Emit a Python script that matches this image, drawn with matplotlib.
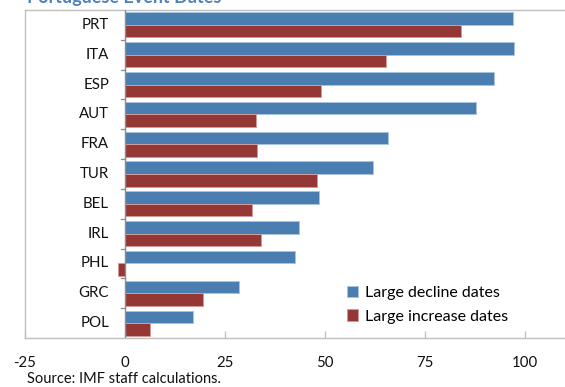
import matplotlib
matplotlib.use("Agg")
import matplotlib.pyplot as plt
import numpy as np

plt.rcParams['font.family'] = ['Lato', 'DejaVu Sans']

countries = ["PRT", "ITA", "ESP", "AUT", "FRA", "TUR", "BEL", "IRL", "PHL", "GRC", "POL"]
decline_dates = [97.0, 97.2, 92.2, 87.8, 65.8, 62.0, 48.5, 43.5, 42.5, 28.5, 17.0]
increase_dates = [84.0, 65.3, 49.0, 32.8, 33.0, 48.0, 31.7, 34.0, -1.8, 19.4, 6.2]
x_ticks = [-25, 0, 25, 50, 75, 100]

blue = "#4A7EB0"
red = "#953735"

fig = plt.figure(figsize=(5.65, 3.87), dpi=100)
ax = fig.add_axes([25 / 565, 49 / 387, 540 / 565, 328 / 387])

y = np.arange(len(countries))
h = 0.42
ax.barh(y - h / 2, decline_dates, height=h, color=blue, edgecolor="#A9C4DD",
        linewidth=0.7, label="Large decline dates")
ax.barh(y + h / 2, increase_dates, height=h, color=red, edgecolor="#D49B9A",
        linewidth=0.7, label="Large increase dates")

ax.set_xlim(-25, 110)
ax.set_ylim(len(countries) - 0.5, -0.5)

# frame
for side in ["left", "top", "bottom"]:
    ax.spines[side].set_color("#BFBFBF")
    ax.spines[side].set_linewidth(1.0)
ax.spines["right"].set_visible(False)

# vertical axis line at zero with boundary ticks
ax.axvline(0, color="#8C8C8C", linewidth=1.0, zorder=3)
for b in np.arange(0.5, len(countries) - 0.5, 1.0):
    ax.plot([-1.0, 0], [b, b], color="#8C8C8C", linewidth=0.9, zorder=3)

ax.set_yticks([])
for yi, name in zip(y, countries):
    ax.text(-4.0, yi, name, ha="right", va="center", fontsize=10.8, color="#111111")

ax.set_xticks(x_ticks)
ax.set_xticklabels([str(v) for v in x_ticks])
ax.tick_params(axis="x", direction="in", length=5, width=0.9, color="#BFBFBF",
               pad=13, labelsize=10.8, labelcolor="#111111")

ax.legend(loc="lower left", bbox_to_anchor=(0.57, 0.0), frameon=False,
          fontsize=11.5, handlelength=0.7, handleheight=0.7,
          handletextpad=0.4, labelspacing=0.6)

fig.text(27 / 565, 1 / 387, "Source: IMF staff calculations.",
         ha="left", va="bottom", fontsize=10.5, color="#111111")
fig.text(27 / 565, 1 - 3 / 387, "Portuguese Event Dates", ha="left", va="baseline",
         fontsize=13, fontweight="bold", color="#4F81BD")

fig.savefig("out.png", dpi=100)
